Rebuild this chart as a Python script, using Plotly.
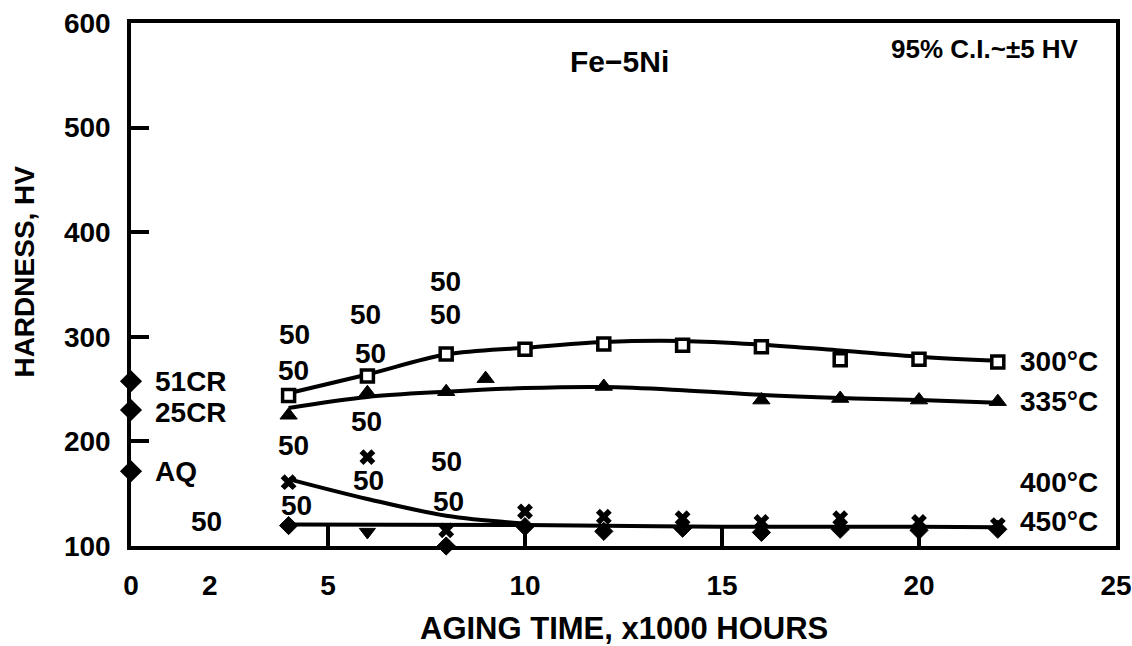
import plotly.graph_objects as go

# ---------------- data ----------------
t300 = [4, 6, 8, 10, 12, 14, 16, 18, 20, 22]
hv300 = [244, 262.5, 283.5, 288, 293, 292, 290.5, 278, 278.5, 276]
fit300_x = [4, 6, 8, 10, 12, 14, 16, 18, 20, 22]
fit300_y = [246, 264, 283, 289.5, 295, 296, 292.5, 287, 281, 277]

t335 = [4, 6, 8, 9, 12, 16, 18, 20, 22]
hv335 = [225, 246.5, 247.5, 260, 252.5, 239.5, 241, 239.5, 238]
fit335_x = [4, 6, 8, 10, 12, 14, 16, 18, 20, 22]
fit335_y = [232, 242.5, 247.5, 251, 252, 249, 244.5, 241.5, 239.5, 237]

t400 = [4, 6, 8, 10, 12, 14, 16, 18, 20, 22]
hv400 = [161, 185, 115, 133, 128, 126.5, 123, 126.5, 123, 120]
fit400_x = [4, 6, 8, 10]
fit400_y = [164, 145, 129, 121.5]

t450 = [4, 6, 8, 10, 12, 14, 16, 18, 20, 22]
hv450 = [119.5, 113.5, 100, 118.5, 114, 117, 113, 116, 115, 116]
fit450_x = [4, 10, 15, 20, 22]
fit450_y = [120.5, 120, 118.5, 118.5, 118]

ref_hv = [257.5, 230, 171.5]
ref_labels = ["51CR", "25CR", "AQ"]
ref_label_hv = [257, 228, 171.5]

n_label_x = [4.16, 4.12, 5.94, 6.07, 7.97, 7.97, 5.98, 4.12, 6.02, 8.01, 8.05, 4.19, 1.92]
n_label_y = [302, 268, 321, 284, 352.5, 321, 219, 196.5, 163, 180.5, 142.5, 139, 123]
n_label_text = ["50"] * 13

temp_labels = ["300°C", "335°C", "400°C", "450°C"]
temp_label_y = [276, 238.5, 161, 123]

x_tick_vals = [0, 2, 5, 10, 15, 20, 25]
x_tick_text = ["0", "2", "5", "10", "15", "20", "25"]
x_tick_marks = [5, 10, 15, 20]
y_tick_vals = [100, 200, 300, 400, 500, 600]

FONT = "Liberation Sans, Arial, sans-serif"
BLK = "black"

fig = go.Figure()

# fitted curves
for fx, fy in [(fit300_x, fit300_y), (fit335_x, fit335_y), (fit400_x, fit400_y), (fit450_x, fit450_y)]:
    fig.add_trace(go.Scatter(x=fx, y=fy, mode="lines", line=dict(color=BLK, width=4, shape="spline", smoothing=1.0),
                             hoverinfo="skip", showlegend=False))

# data markers
fig.add_trace(go.Scatter(x=t300, y=hv300, mode="markers", showlegend=False,
                         marker=dict(symbol="square", size=12, color="white", line=dict(color=BLK, width=3.5))))
fig.add_trace(go.Scatter(x=t335, y=hv335, mode="markers", showlegend=False,
                         marker=dict(symbol="triangle-up", size=15, color=BLK, line=dict(color=BLK, width=1))))
fig.add_trace(go.Scatter(x=t400, y=hv400, mode="markers", showlegend=False,
                         marker=dict(symbol="x", size=14, color=BLK, line=dict(color=BLK, width=0))))
sym450 = ["diamond", "triangle-down", "diamond", "diamond", "diamond", "diamond", "diamond", "diamond", "diamond", "diamond"]
fig.add_trace(go.Scatter(x=t450, y=hv450, mode="markers", showlegend=False, cliponaxis=False,
                         marker=dict(symbol=sym450, size=14, color=BLK, line=dict(color=BLK, width=1))))

# reference states on y axis
fig.add_trace(go.Scatter(x=[0] * len(ref_hv), y=ref_hv, mode="markers", showlegend=False, cliponaxis=False,
                         marker=dict(symbol="diamond", size=17, color=BLK)))

# dummy trace for tick-mark axis
fig.add_trace(go.Scatter(x=[None], y=[None], xaxis="x2", showlegend=False, hoverinfo="skip"))

ann = []
for x, y, t in zip(n_label_x, n_label_y, n_label_text):
    ann.append(dict(x=x, y=y, text=t, showarrow=False, xanchor="center", yanchor="middle",
                    font=dict(family=FONT, size=28, color=BLK, weight="bold")))
for t, y in zip(temp_labels, temp_label_y):
    ann.append(dict(x=22.52, y=y, text=t, showarrow=False, xanchor="left", yanchor="middle",
                    font=dict(family=FONT, size=28, color=BLK, weight="bold")))
for t, y in zip(ref_labels, ref_label_hv):
    ann.append(dict(x=0.55, y=y, text=t, showarrow=False, xanchor="left", yanchor="middle",
                    font=dict(family=FONT, size=28, color=BLK, weight="bold")))
ann.append(dict(x=12.4, y=563, text="Fe−5Ni", showarrow=False, xanchor="center", yanchor="middle",
                font=dict(family=FONT, size=30, color=BLK, weight="bold")))
ann.append(dict(x=24.1, y=575, text="95% C.I.~±5 HV", showarrow=False, xanchor="right", yanchor="middle",
                font=dict(family=FONT, size=26, color=BLK, weight="bold")))
ann.append(dict(xref="paper", yref="paper", x=0.5, y=-0.157, text="AGING TIME, x1000 HOURS", showarrow=False,
                xanchor="center", yanchor="middle", font=dict(family=FONT, size=31, color=BLK, weight="bold")))
ann.append(dict(xref="paper", yref="paper", x=-0.108, y=0.524, text="HARDNESS, HV", showarrow=False, textangle=-90,
                xanchor="center", yanchor="middle", font=dict(family=FONT, size=28, color=BLK, weight="bold")))

fig.update_layout(
    width=1132, height=646,
    margin=dict(l=131, r=16, t=23, b=100, autoexpand=False),
    paper_bgcolor="white", plot_bgcolor="white",
    font=dict(family=FONT, size=28, color=BLK, weight="bold"),
    showlegend=False,
    annotations=ann,
    xaxis=dict(range=[0, 25], tickvals=x_tick_vals, ticktext=x_tick_text, ticks="",
               showline=True, linecolor=BLK, linewidth=3.5, mirror=True, showgrid=False, zeroline=False,
               ticklabelstandoff=12, tickfont=dict(family=FONT, size=28, color=BLK, weight="bold")),
    xaxis2=dict(range=[0, 25], overlaying="x", anchor="y", side="bottom", tickvals=x_tick_marks,
                ticks="inside", ticklen=20, tickwidth=3.5, tickcolor=BLK, showticklabels=False,
                showline=False, showgrid=False, zeroline=False),
    yaxis=dict(range=[100, 600], tickvals=y_tick_vals, ticks="inside", ticklen=18, tickwidth=3.5, tickcolor=BLK,
               showline=True, linecolor=BLK, linewidth=3.5, mirror=True, showgrid=False, zeroline=False,
               ticklabelstandoff=11, tickfont=dict(family=FONT, size=28, color=BLK, weight="bold")),
)

fig.write_html("out.html")
